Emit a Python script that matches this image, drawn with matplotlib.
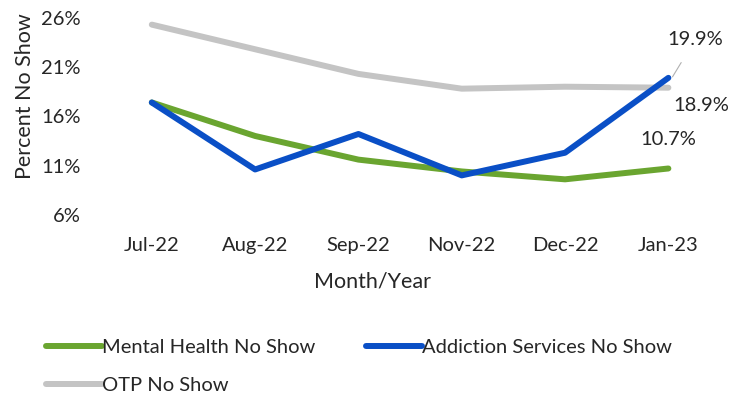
import matplotlib.pyplot as plt

plt.rcParams['font.family'] = ['Lato', 'DejaVu Sans']

months = ['Jul-22', 'Aug-22', 'Sep-22', 'Nov-22', 'Dec-22', 'Jan-23']
mental = [17.4, 14.0, 11.6, 10.4, 9.6, 10.7]
addiction = [17.4, 10.6, 14.2, 10.0, 12.3, 19.9]
otp = [25.3, 22.8, 20.3, 18.8, 19.0, 18.9]
yticks = [6, 11, 16, 21, 26]

green = '#6aa530'
blue = '#0a4fc6'
gray = '#c4c4c4'
txt = '#262626'
fs = 14.5

fig = plt.figure(figsize=(7.31, 4.03), dpi=100)
ax = fig.add_axes([0.137, 0.467, 0.848, 0.489])

x = range(len(months))
l_otp, = ax.plot(x, otp, color=gray, lw=4.3, solid_capstyle='round', solid_joinstyle='round', label='OTP No Show')
l_mh, = ax.plot(x, mental, color=green, lw=4.3, solid_capstyle='round', solid_joinstyle='round', label='Mental Health No Show')
l_as, = ax.plot(x, addiction, color=blue, lw=4.3, solid_capstyle='round', solid_joinstyle='round', label='Addiction Services No Show')

ax.set_xlim(-0.5, len(months) - 0.5)
ax.set_ylim(6, 26)
ax.set_yticks(yticks)
ax.set_yticklabels([f'{v}%' for v in yticks])
ax.set_xticks(list(x))
ax.set_xticklabels(months)
ax.tick_params(length=0, labelsize=fs, labelcolor=txt)
ax.tick_params(axis='y', pad=14)
ax.tick_params(axis='x', pad=16)
for s in ax.spines.values():
    s.set_visible(False)

ax.set_xlabel('Month/Year', fontsize=15.5, color=txt)
ax.xaxis.set_label_coords(0.44, -0.29)
ax.set_ylabel('Percent No Show', fontsize=15.5, color=txt)
ax.yaxis.set_label_coords(-0.105, 0.6)

# data labels at the last point
last = len(months) - 1
ax.annotate(f'{addiction[-1]}%', xy=(last + 0.04, addiction[-1] + 0.1), xytext=(last + 0.26, 23.8),
            fontsize=fs, color=txt, ha='center', va='center',
            arrowprops=dict(arrowstyle='-', color='#b0b0b0', lw=0.8, shrinkA=10, shrinkB=0))
ax.annotate(f'{otp[-1]}%', xy=(last, otp[-1]), xytext=(24, -13), textcoords='offset points',
            fontsize=fs, color=txt, ha='center', va='center')
ax.annotate(f'{mental[-1]}%', xy=(last, mental[-1]), xytext=(0, 21), textcoords='offset points',
            fontsize=fs, color=txt, ha='center', va='center')

fig.legend([l_mh, l_otp, l_as], [l_mh.get_label(), l_otp.get_label(), l_as.get_label()],
           ncol=2, frameon=False, loc='upper left', bbox_to_anchor=(0.052, 0.18),
           fontsize=fs, handlelength=2.8, handletextpad=0.0, columnspacing=2.5,
           labelspacing=1.05, borderaxespad=0, labelcolor=txt)

fig.savefig('out.png', dpi=100)
